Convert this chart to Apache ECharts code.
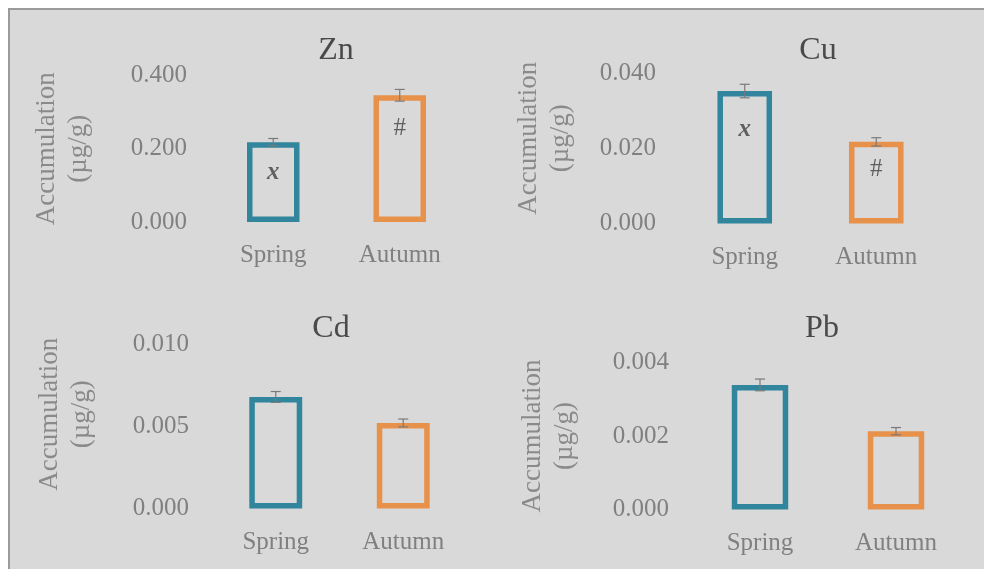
<!DOCTYPE html>
<html>
<head>
<meta charset="utf-8">
<script src="https://cdn.jsdelivr.net/npm/echarts@6/dist/echarts.min.js"></script>
<style>
  html, body { margin: 0; padding: 0; background: #ffffff; }
  #frame { position: absolute; left: 8px; top: 8px; width: 976px; height: 561px;
           background: #d9d9d9; border-left: 2px solid #9a9a9a; border-top: 2px solid #9a9a9a; box-sizing: border-box; }
  #chart { position: absolute; left: 0; top: 0; width: 984px; height: 569px; }
</style>
</head>
<body>
<div id="frame"></div>
<div id="chart"></div>
<script>
// Seasonal accumulation of trace metals (µg/g), mean ± error
const categories = ['Spring', 'Autumn'];

const znMean = [0.218, 0.346];
const znErr  = [0.010, 0.016];
const cuMean = [0.0352, 0.0217];
const cuErr  = [0.0018, 0.0011];
const cdMean = [0.00678, 0.00520];
const cdErr  = [0.00033, 0.00024];
const pbMean = [0.00339, 0.00213];
const pbErr  = [0.00016, 0.00010];

// Significance marks drawn inside the bars ('' = none)
const znMarks = ['x', '#'];
const cuMarks = ['x', '#'];
const cdMarks = ['', ''];
const pbMarks = ['', ''];

const seasonColors = ['#31859c', '#e8914a'];
const FONT = '"Liberation Serif", "Times New Roman", serif';

const panels = [
  { name: 'Zn', mean: znMean, err: znErr, marks: znMarks, max: 0.4,   interval: 0.2,   digits: 3,
    grid: { left: 210, top: 75.5, width: 253, height: 146.5 }, title: [331, 30], markGap: [18, 21],
    nameGap: 115, namePad: 0 },
  { name: 'Cu', mean: cuMean, err: cuErr, marks: cuMarks, max: 0.04,  interval: 0.02,  digits: 3,
    grid: { left: 679, top: 73, width: 263, height: 150.5 }, title: [813, 30], markGap: [26, 15],
    nameGap: 102, namePad: 20 },
  { name: 'Cd', mean: cdMean, err: cdErr, marks: cdMarks, max: 0.01,  interval: 0.005, digits: 3,
    grid: { left: 212, top: 344, width: 255, height: 164.5 }, title: [326, 308], markGap: [18, 18],
    nameGap: 114, namePad: 24 },
  { name: 'Pb', mean: pbMean, err: pbErr, marks: pbMarks, max: 0.004, interval: 0.002, digits: 3,
    grid: { left: 692, top: 362.5, width: 272, height: 147 }, title: [817, 308], markGap: [18, 18],
    nameGap: 111, namePad: 0 }
];

const option = {
  animation: false,
  backgroundColor: 'transparent',
  title: [], grid: [], xAxis: [], yAxis: [], series: []
};

panels.forEach((p, i) => {
  option.title.push({
    text: p.name, left: p.title[0], top: p.title[1], textAlign: 'center',
    textStyle: { fontFamily: FONT, fontSize: 32, fontWeight: 'normal', color: '#4a4a4a' }
  });
  option.grid.push(Object.assign({ containLabel: false }, p.grid));
  option.xAxis.push({
    type: 'category', gridIndex: i, data: categories,
    axisLine: { show: false }, axisTick: { show: false }, splitLine: { show: false },
    axisLabel: { margin: 21, fontFamily: FONT, fontSize: 25, color: '#808080' }
  });
  option.yAxis.push({
    type: 'value', gridIndex: i, min: 0, max: p.max, interval: p.interval,
    axisLine: { show: false }, axisTick: { show: false }, splitLine: { show: false },
    axisLabel: { margin: 23, fontFamily: FONT, fontSize: 25, color: '#808080',
                 formatter: v => v.toFixed(p.digits) },
    name: 'Accumulation\n(µg/g)', nameLocation: 'middle', nameRotate: 90, nameGap: p.nameGap,
    nameTextStyle: { fontFamily: FONT, fontSize: 27, color: '#8a8a8a', lineHeight: 32,
                     padding: [0, 0, 0, p.namePad] }
  });
  option.series.push({
    type: 'bar', xAxisIndex: i, yAxisIndex: i, barWidth: '41.5%',
    data: p.mean.map((v, k) => ({
      value: v,
      itemStyle: { color: 'transparent', borderColor: seasonColors[k], borderWidth: 5.5 },
      label: {
        show: p.marks[k] !== '', formatter: p.marks[k], position: 'insideTop',
        distance: p.markGap[k], fontFamily: FONT, fontSize: 25, color: '#5f5f5f',
        fontStyle: p.marks[k] === 'x' ? 'italic' : 'normal',
        fontWeight: p.marks[k] === 'x' ? 'bold' : 'normal'
      }
    }))
  });
  option.series.push({
    type: 'custom', xAxisIndex: i, yAxisIndex: i, z: 5,
    data: p.mean.map((v, k) => [k, v, p.err[k]]),
    renderItem: (params, api) => {
      const x = api.value(0), v = api.value(1), e = api.value(2);
      const hi = api.coord([x, v + e]);
      const lo = api.coord([x, v - e]);
      const cap = 5;
      const style = { stroke: '#7a7a7a', lineWidth: 1.2 };
      return {
        type: 'group',
        children: [
          { type: 'line', shape: { x1: hi[0], y1: hi[1], x2: lo[0], y2: lo[1] }, style },
          { type: 'line', shape: { x1: hi[0] - cap, y1: hi[1], x2: hi[0] + cap, y2: hi[1] }, style },
          { type: 'line', shape: { x1: lo[0] - cap, y1: lo[1], x2: lo[0] + cap, y2: lo[1] }, style }
        ]
      };
    }
  });
});

const chart = echarts.init(document.getElementById('chart'), null, { renderer: 'canvas' });
chart.setOption(option);
</script>
</body>
</html>
